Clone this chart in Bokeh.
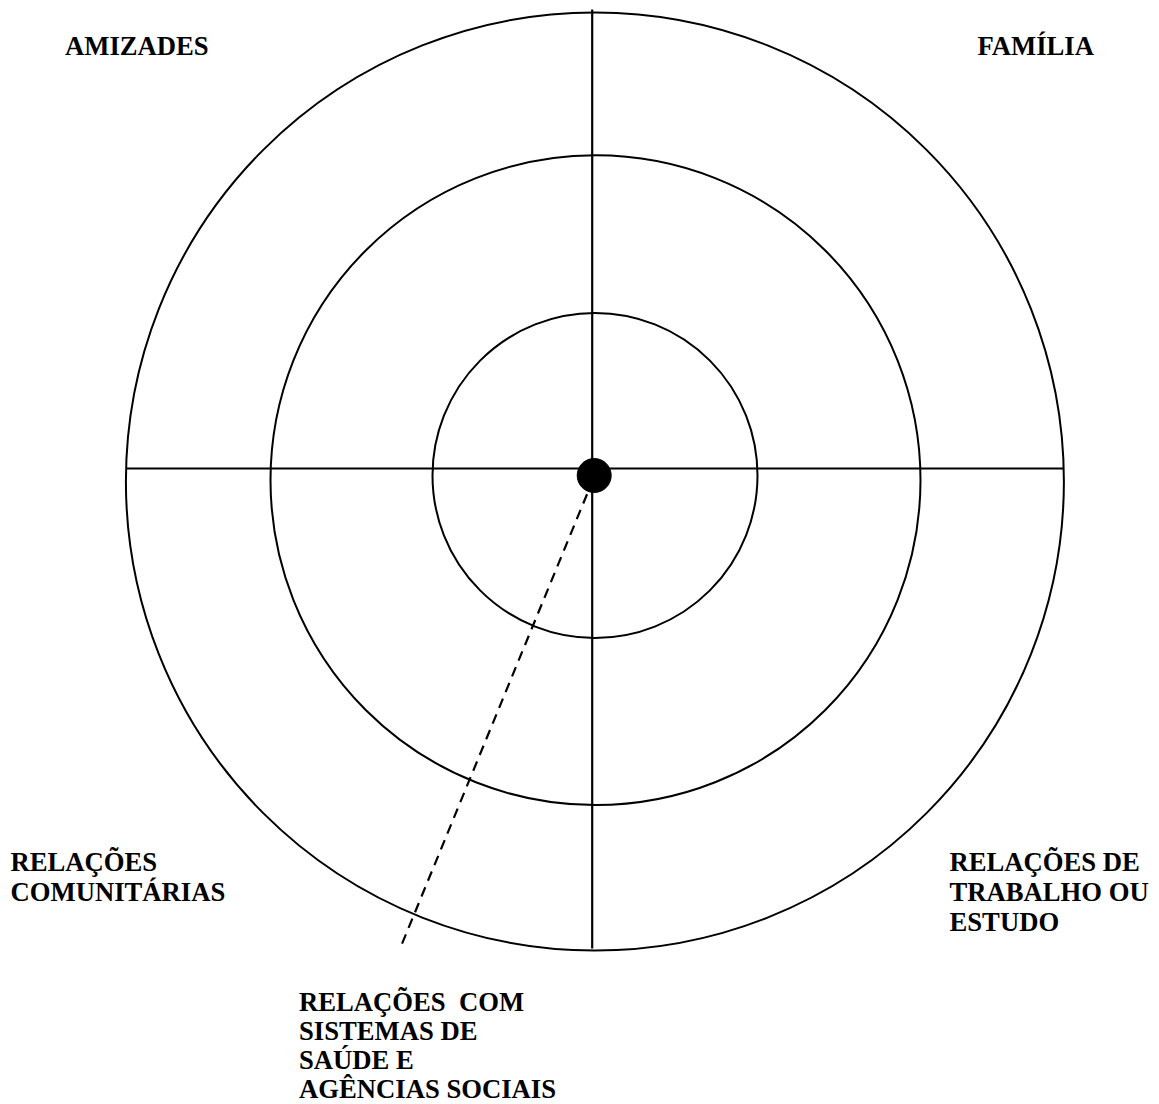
from bokeh.plotting import figure
from bokeh.models import Range1d, ColumnDataSource
from bokeh.embed import file_html
from bokeh.resources import INLINE
from bokeh.core.properties import value

# ---- data ----
ring_names = ["inner", "middle", "outer"]
ring_radius = [162.5, 325, 469]
ring_cx = [594.5, 595.0, 594.4]
ring_cy = [475.0, 479.7, 481.0]

quadrant_labels = [
    ["AMIZADES"],
    ["FAMÍLIA"],
    ["RELAÇÕES", "COMUNITÁRIAS"],
    ["RELAÇÕES DE", "TRABALHO OU", "ESTUDO"],
    ["RELAÇÕES \u00a0COM", "SISTEMAS DE", "SAÚDE E", "AGÊNCIAS SOCIAIS"],
]
label_x = [64.5, 977, 10, 949, 298.5]
label_y = [45, 45, 861, 861, 1001]
line_gaps = [30.3, 30.3, 30.3, 30.3, 29.3]

W, H = 1159, 1104
p = figure(width=W, height=H, output_backend="svg", toolbar_location=None,
           x_range=Range1d(0, W), y_range=Range1d(H, 0),
           min_border=0, outline_line_color=None, background_fill_color="white",
           border_fill_color="white")
p.axis.visible = False
p.grid.visible = False

# rings
p.circle(x=ring_cx, y=ring_cy, radius=ring_radius, fill_color=None,
         line_color="black", line_width=2)

# cross lines
p.line(x=[125.5, 1063.5], y=[468, 468], line_color="black", line_width=2.2)
p.line(x=[591.7, 591.7], y=[9, 948], line_color="black", line_width=2.2)

# dashed line to the health-system sector
p.line(x=[593, 400], y=[478, 947], line_color="black", line_width=2.2,
       line_dash="10 7")

# central dot
p.circle(x=[593.7], y=[475], radius=17, fill_color="black", line_color="black")

# labels
xs, ys, ts = [], [], []
for lines, lx, ly, g in zip(quadrant_labels, label_x, label_y, line_gaps):
    for i, t in enumerate(lines):
        xs.append(lx)
        ys.append(ly + i * g)
        ts.append(t)
src = ColumnDataSource(dict(x=xs, y=ys, t=ts))
p.text(x="x", y="y", text="t", source=src, text_font=value("Liberation Serif"),
       text_font_style="bold", text_font_size="26.67px", text_color="black",
       text_align="left", text_baseline="alphabetic")

open("out.html", "w").write(file_html(p, INLINE))
